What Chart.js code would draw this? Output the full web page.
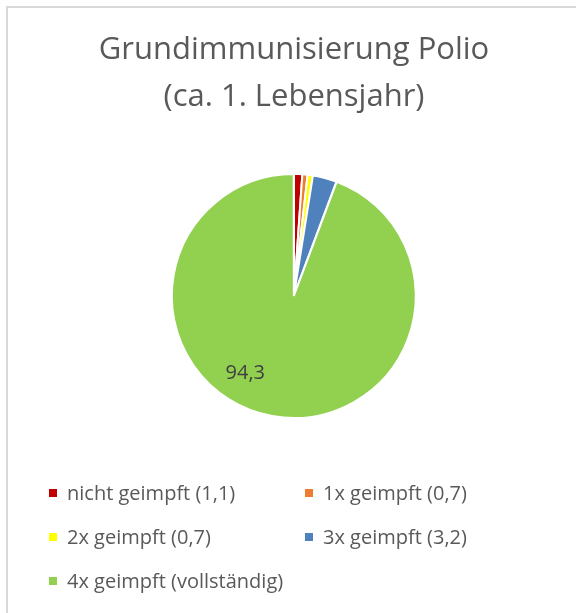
<!DOCTYPE html>
<html>
<head>
<meta charset="utf-8">
<script src="https://cdn.jsdelivr.net/npm/chart.js@4"></script>
<style>
  html, body { margin:0; padding:0; background:#fff; overflow:hidden; }
  #frame { position:absolute; left:6px; top:6px; width:700px; height:700px;
           border-left:2px solid #d9d9d9; border-top:2px solid #d9d9d9; }
  #wrap { position:absolute; left:0; top:0; width:576px; height:613px; }
</style>
</head>
<body>
<div id="frame"></div>
<div id="wrap"><canvas id="pieChart" width="576" height="613"></canvas></div>
<script>
const titleLines = ['Grundimmunisierung Polio', '(ca. 1. Lebensjahr)'];
const categories = ['nicht geimpft (1,1)', '1x geimpft (0,7)', '2x geimpft (0,7)', '3x geimpft (3,2)', '4x geimpft (vollständig)'];
const shares = [1.1, 0.7, 0.7, 3.2, 94.3];
const sliceColors = ['#c00000', '#ed7d31', '#ffff00', '#4f81bd', '#92d050'];
const shownLabels = [null, null, null, null, '94,3'];

const FONT = "'Open Sans', sans-serif";

// legend in two columns, like the office chart
const gridLegend = {
  id: 'gridLegend',
  afterDraw(chart) {
    const ctx = chart.ctx;
    const colX = [49, 305];
    ctx.save();
    ctx.font = '20px ' + FONT;
    ctx.textBaseline = 'middle';
    categories.forEach((txt, i) => {
      const x = colX[i % 2];
      const y = 493 + Math.floor(i / 2) * 44;
      ctx.fillStyle = sliceColors[i];
      ctx.fillRect(x, y - 4, 8, 8);
      ctx.fillStyle = '#595959';
      ctx.fillText(txt, x + 18, y + 1);
    });
    ctx.restore();
  }
};

// value label inside the big slice
const sliceLabels = {
  id: 'sliceLabels',
  afterDatasetsDraw(chart) {
    const ctx = chart.ctx;
    const arcs = chart.getDatasetMeta(0).data;
    ctx.save();
    ctx.font = '20px ' + FONT;
    ctx.fillStyle = '#404040';
    ctx.textAlign = 'center';
    ctx.textBaseline = 'middle';
    arcs.forEach((arc, i) => {
      if (!shownLabels[i]) return;
      const p = arc.getProps(['x', 'y', 'startAngle', 'endAngle', 'outerRadius']);
      const a = p.startAngle + 0.564 * (p.endAngle - p.startAngle);
      const r = p.outerRadius * 0.76;
      ctx.fillText(shownLabels[i], p.x + Math.cos(a) * r, p.y + Math.sin(a) * r);
    });
    ctx.restore();
  }
};

new Chart(document.getElementById('pieChart').getContext('2d'), {
  type: 'pie',
  data: {
    labels: categories,
    datasets: [{
      data: shares,
      backgroundColor: sliceColors,
      borderColor: '#ffffff',
      borderWidth: 2,
      offset: [0, 0, 0, 0, 4]
    }]
  },
  options: {
    responsive: false,
    animation: false,
    layout: { padding: { top: 6, left: 12, right: 0, bottom: 194 } },
    plugins: {
      legend: { display: false },
      tooltip: { enabled: false },
      title: {
        display: true,
        text: titleLines,
        color: '#595959',
        font: { family: FONT, size: 31, weight: 'normal', lineHeight: 1.516 },
        padding: { top: 21, bottom: 50 }
      }
    }
  },
  plugins: [sliceLabels, gridLegend]
});
</script>
</body>
</html>
